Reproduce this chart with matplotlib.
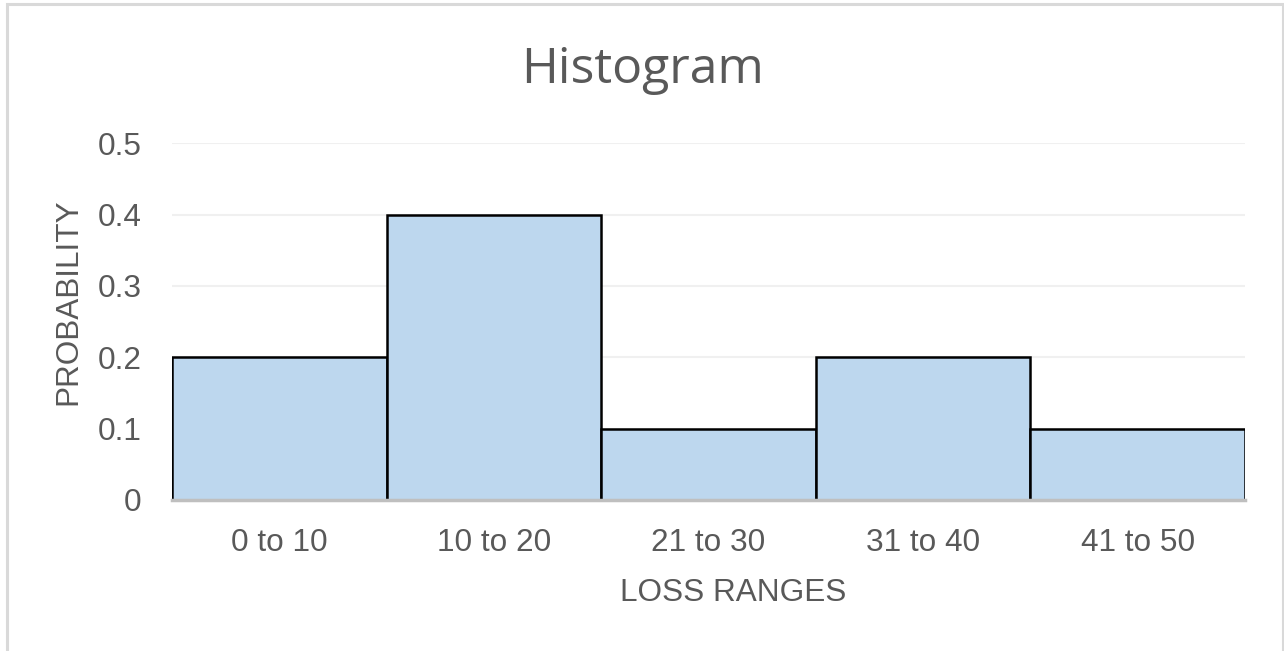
import matplotlib.pyplot as plt
from matplotlib.patches import Rectangle

categories = ['0 to 10', '10 to 20', '21 to 30', '31 to 40', '41 to 50']
probability = [0.2, 0.4, 0.1, 0.2, 0.1]
y_ticks = [0, 0.1, 0.2, 0.3, 0.4, 0.5]
y_tick_labels = ['0', '0.1', '0.2', '0.3', '0.4', '0.5']

plt.rcParams['font.family'] = ['Liberation Sans', 'DejaVu Sans']
text_color = '#595959'

fig = plt.figure(figsize=(12.84, 6.51), dpi=100)
ax = fig.add_axes([0.134, 0.232, 0.8356, 0.548])

# outer chart border like the excel chart area
fig.patches.append(Rectangle((7 / 1284, -0.01), 1276 / 1284, 1 - 4 / 651 + 0.01,
                             transform=fig.transFigure, fill=False,
                             edgecolor='#d9d9d9', linewidth=2.2))

x = list(range(len(categories)))
ax.bar(x, probability, width=1.0, color='#bdd7ee', edgecolor='black',
       linewidth=1.8, zorder=3)

ax.set_xlim(-0.5, len(categories) - 0.5)
ax.set_ylim(0, 0.5)
ax.set_yticks(y_ticks)
ax.set_yticklabels(y_tick_labels)
ax.set_xticks(x)
ax.set_xticklabels(categories)
ax.tick_params(axis='both', length=0, labelsize=22.7, labelcolor=text_color)
ax.tick_params(axis='y', pad=22)
ax.tick_params(axis='x', pad=20)

ax.grid(axis='y', color='#f0f0f0', linewidth=1.5, zorder=0)
for side in ['top', 'right', 'left']:
    ax.spines[side].set_visible(False)
ax.spines['bottom'].set_color('#bfbfbf')
ax.spines['bottom'].set_linewidth(2.5)
ax.spines['bottom'].set_zorder(4)

ax.set_xlabel('LOSS RANGES', fontsize=22.7, color=text_color)
ax.set_ylabel('PROBABILITY', fontsize=22.7, color=text_color)
# excel placed the axis titles a bit off centre
ax.xaxis.set_label_coords(0.523, -0.219)
ax.yaxis.set_label_coords(-0.083, 0.556)
fig.text(0.5, 1 - 83 / 651, 'Histogram', fontsize=36, color=text_color,
         ha='center', va='baseline', family=['Open Sans', 'DejaVu Sans'])

fig.savefig('out.png', dpi=100, facecolor='white')
